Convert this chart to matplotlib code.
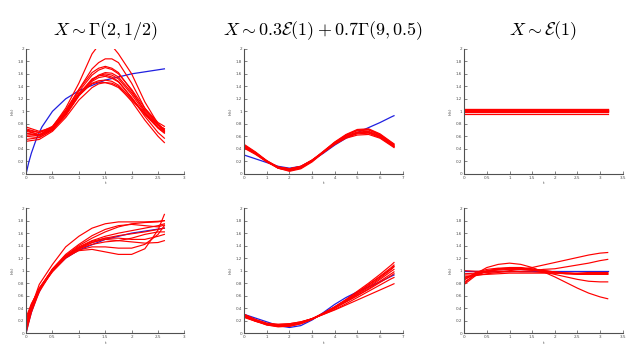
import matplotlib
matplotlib.use('Agg')
import matplotlib.pyplot as plt
import numpy as np

plt.rcParams['mathtext.fontset'] = 'cm'

# --- column 1 : X ~ Gamma(2, 1/2) ---
t_true_g = [0, 0.05, 0.1, 0.2, 0.3, 0.5, 0.75, 1.0, 1.5, 2.0, 2.62]
h_true_g = [0, 0.18, 0.33, 0.57, 0.75, 1.0, 1.2, 1.33, 1.5, 1.6, 1.68]

t_g_top = [0, 0.25, 0.5, 0.75, 1.0, 1.25, 1.375, 1.5, 1.625, 1.75, 2.0, 2.25, 2.5, 2.62]
h_g_top = [
    [0.70, 0.62, 0.75, 1.05, 1.45, 1.92, 2.06, 2.12, 2.05, 1.92, 1.60, 1.15, 0.80, 0.70],
    [0.65, 0.60, 0.72, 1.00, 1.35, 1.68, 1.78, 1.84, 1.84, 1.78, 1.45, 1.05, 0.78, 0.68],
    [0.72, 0.66, 0.76, 1.02, 1.35, 1.62, 1.69, 1.72, 1.69, 1.62, 1.33, 1.00, 0.78, 0.72],
    [0.60, 0.58, 0.70, 0.98, 1.32, 1.58, 1.66, 1.70, 1.67, 1.60, 1.35, 1.05, 0.82, 0.76],
    [0.75, 0.68, 0.74, 0.95, 1.25, 1.50, 1.58, 1.62, 1.61, 1.55, 1.30, 1.02, 0.80, 0.70],
    [0.68, 0.63, 0.72, 0.96, 1.28, 1.50, 1.57, 1.60, 1.58, 1.52, 1.27, 0.98, 0.74, 0.66],
    [0.65, 0.62, 0.70, 0.93, 1.25, 1.48, 1.54, 1.56, 1.53, 1.47, 1.22, 0.95, 0.73, 0.65],
    [0.70, 0.66, 0.73, 0.95, 1.25, 1.45, 1.49, 1.50, 1.48, 1.42, 1.20, 0.96, 0.75, 0.68],
    [0.62, 0.62, 0.75, 1.00, 1.28, 1.44, 1.47, 1.46, 1.43, 1.38, 1.18, 0.96, 0.78, 0.72],
    [0.52, 0.55, 0.68, 0.90, 1.18, 1.38, 1.44, 1.46, 1.45, 1.40, 1.16, 0.86, 0.60, 0.50],
    [0.55, 0.58, 0.70, 0.95, 1.28, 1.52, 1.57, 1.58, 1.55, 1.48, 1.22, 0.92, 0.66, 0.57],
]

t_g_bot = [0, 0.1, 0.25, 0.5, 0.75, 1.0, 1.25, 1.5, 1.75, 2.0, 2.25, 2.5, 2.62]
h_g_bot = [
    [0.10, 0.42, 0.78, 1.10, 1.38, 1.55, 1.68, 1.75, 1.78, 1.78, 1.78, 1.79, 1.80],
    [0.05, 0.38, 0.70, 1.02, 1.24, 1.40, 1.52, 1.62, 1.70, 1.75, 1.77, 1.78, 1.80],
    [0.20, 0.45, 0.72, 1.02, 1.22, 1.32, 1.34, 1.30, 1.26, 1.26, 1.35, 1.65, 1.90],
    [0.25, 0.47, 0.70, 0.98, 1.20, 1.33, 1.38, 1.38, 1.36, 1.36, 1.42, 1.58, 1.72],
    [0.15, 0.42, 0.70, 1.00, 1.22, 1.36, 1.45, 1.50, 1.48, 1.46, 1.44, 1.45, 1.48],
    [0.00, 0.33, 0.66, 1.00, 1.22, 1.35, 1.45, 1.52, 1.56, 1.59, 1.62, 1.66, 1.68],
    [0.05, 0.36, 0.68, 1.02, 1.24, 1.38, 1.48, 1.55, 1.60, 1.64, 1.68, 1.72, 1.75],
    [0.20, 0.45, 0.72, 1.01, 1.22, 1.35, 1.42, 1.46, 1.48, 1.52, 1.58, 1.62, 1.62],
    [0.12, 0.40, 0.69, 1.00, 1.23, 1.37, 1.47, 1.52, 1.52, 1.50, 1.50, 1.55, 1.58],
    [0.08, 0.38, 0.70, 1.03, 1.26, 1.42, 1.56, 1.66, 1.72, 1.74, 1.72, 1.70, 1.73],
]

# --- column 2 : X ~ 0.3 E(1) + 0.7 Gamma(9, 0.5) ---
t_m = [0, 0.5, 1, 1.5, 2, 2.5, 3, 3.5, 4, 4.5, 5, 5.5, 6, 6.5, 6.62]
h_true_m = [0.30, 0.24, 0.18, 0.12, 0.09, 0.12, 0.21, 0.33, 0.46, 0.57, 0.66, 0.74, 0.82, 0.91, 0.93]

h_m_top = [
    [0.47, 0.35, 0.21, 0.10, 0.06, 0.10, 0.21, 0.36, 0.51, 0.63, 0.71, 0.72, 0.64, 0.51, 0.48],
    [0.45, 0.34, 0.20, 0.09, 0.05, 0.09, 0.20, 0.35, 0.50, 0.62, 0.69, 0.70, 0.62, 0.49, 0.46],
    [0.44, 0.33, 0.20, 0.10, 0.07, 0.11, 0.22, 0.36, 0.50, 0.61, 0.67, 0.68, 0.61, 0.48, 0.45],
    [0.43, 0.32, 0.19, 0.09, 0.06, 0.10, 0.21, 0.35, 0.49, 0.60, 0.66, 0.66, 0.59, 0.47, 0.44],
    [0.42, 0.32, 0.20, 0.11, 0.08, 0.12, 0.22, 0.35, 0.48, 0.58, 0.64, 0.65, 0.58, 0.46, 0.43],
    [0.41, 0.31, 0.19, 0.10, 0.08, 0.12, 0.22, 0.34, 0.47, 0.57, 0.62, 0.63, 0.57, 0.45, 0.42],
    [0.46, 0.34, 0.20, 0.09, 0.04, 0.08, 0.19, 0.34, 0.49, 0.62, 0.70, 0.71, 0.63, 0.50, 0.47],
    [0.43, 0.33, 0.21, 0.11, 0.08, 0.11, 0.21, 0.34, 0.48, 0.59, 0.65, 0.67, 0.60, 0.47, 0.44],
]

h_m_bot = [
    [0.30, 0.21, 0.14, 0.11, 0.11, 0.15, 0.22, 0.31, 0.42, 0.54, 0.67, 0.80, 0.94, 1.09, 1.13],
    [0.28, 0.20, 0.14, 0.11, 0.12, 0.16, 0.23, 0.32, 0.42, 0.53, 0.65, 0.78, 0.91, 1.05, 1.09],
    [0.27, 0.20, 0.14, 0.12, 0.13, 0.17, 0.23, 0.31, 0.41, 0.52, 0.63, 0.75, 0.88, 1.02, 1.06],
    [0.29, 0.21, 0.15, 0.12, 0.13, 0.17, 0.23, 0.31, 0.40, 0.51, 0.62, 0.73, 0.86, 0.99, 1.02],
    [0.26, 0.19, 0.14, 0.13, 0.14, 0.17, 0.23, 0.31, 0.40, 0.50, 0.60, 0.71, 0.83, 0.95, 0.98],
    [0.28, 0.20, 0.13, 0.10, 0.11, 0.15, 0.22, 0.31, 0.41, 0.50, 0.60, 0.70, 0.81, 0.92, 0.95],
    [0.25, 0.19, 0.15, 0.14, 0.15, 0.18, 0.23, 0.30, 0.38, 0.47, 0.57, 0.67, 0.77, 0.87, 0.89],
    [0.30, 0.22, 0.16, 0.14, 0.15, 0.18, 0.23, 0.30, 0.37, 0.45, 0.53, 0.61, 0.69, 0.77, 0.79],
    [0.27, 0.19, 0.13, 0.11, 0.12, 0.16, 0.23, 0.32, 0.42, 0.53, 0.65, 0.77, 0.90, 1.03, 1.07],
]

# --- column 3 : X ~ E(1) ---
t_e_top = [0, 3.17]
h_true_e_top = [1.0, 1.0]
h_e_top = [1.035, 1.03, 1.025, 1.02, 1.015, 1.01, 1.005, 0.995, 0.99, 0.965]

t_e = [0, 0.25, 0.5, 0.75, 1, 1.25, 1.5, 1.75, 2, 2.25, 2.5, 2.75, 3, 3.17]
h_true_e = [1.0] * len(t_e)
h_e_bot = [
    [0.80, 0.95, 1.05, 1.10, 1.12, 1.10, 1.05, 0.98, 0.90, 0.81, 0.72, 0.64, 0.58, 0.55],
    [0.90, 0.92, 0.95, 0.97, 1.00, 1.02, 1.05, 1.09, 1.13, 1.17, 1.21, 1.25, 1.28, 1.29],
    [0.95, 0.96, 0.97, 0.98, 0.98, 0.99, 1.00, 1.02, 1.03, 1.06, 1.09, 1.12, 1.16, 1.18],
    [0.85, 0.97, 1.02, 1.04, 1.04, 1.03, 1.01, 0.98, 0.94, 0.90, 0.86, 0.83, 0.82, 0.82],
    [0.78, 0.92, 0.99, 1.03, 1.05, 1.05, 1.03, 1.00, 0.97, 0.95, 0.94, 0.94, 0.95, 0.95],
    [0.88, 0.95, 1.00, 1.03, 1.04, 1.04, 1.02, 1.00, 0.98, 0.96, 0.95, 0.95, 0.96, 0.96],
    [0.93, 0.93, 0.94, 0.95, 0.96, 0.96, 0.96, 0.96, 0.96, 0.96, 0.96, 0.97, 0.97, 0.97],
    [0.82, 0.93, 0.99, 1.02, 1.03, 1.03, 1.02, 1.00, 0.98, 0.96, 0.95, 0.94, 0.94, 0.94],
    [1.00, 0.99, 0.99, 0.99, 0.99, 0.98, 0.98, 0.97, 0.96, 0.95, 0.95, 0.94, 0.94, 0.94],
    [0.86, 0.94, 0.99, 1.01, 1.02, 1.02, 1.01, 0.99, 0.97, 0.96, 0.95, 0.95, 0.95, 0.96],
]

titles = [r'$X \sim \Gamma(2,1/2)$',
          r'$X \sim 0.3\mathcal{E}(1) + 0.7\Gamma(9,0.5)$',
          r'$X \sim \mathcal{E}(1)$']
xmax = [3, 7, 3.5]
xstep = [0.5, 1, 0.5]

RED = '#ff0000'
BLUE = '#2020e0'

fig = plt.figure(figsize=(6.36, 3.54), dpi=100)
lefts = [0.041, 0.384, 0.730]
bottoms = [0.509, 0.059]
w, h = 0.249, 0.353

panels = [
    [(t_true_g, h_true_g, t_g_top, h_g_top),
     (t_m, h_true_m, t_m, h_m_top),
     (t_e_top, h_true_e_top, t_e_top, [[v, v] for v in h_e_top])],
    [(t_true_g, h_true_g, t_g_bot, h_g_bot),
     (t_m, h_true_m, t_m, h_m_bot),
     (t_e, h_true_e, t_e, h_e_bot)],
]

for r in range(2):
    for c in range(3):
        ax = fig.add_axes([lefts[c], bottoms[r], w, h])
        tb, hb, tr, hr = panels[r][c]
        ax.plot(tb, hb, color=BLUE, lw=0.9)
        for curve in hr:
            ax.plot(tr, curve, color=RED, lw=0.85)
        ax.set_xlim(0, xmax[c])
        ax.set_ylim(0, 2)
        ax.set_xticks(np.arange(0, xmax[c] + 1e-9, xstep[c]))
        ax.set_yticks(np.arange(0, 2.01, 0.2))
        ax.set_yticklabels(['0', '0.2', '0.4', '0.6', '0.8', '1',
                            '1.2', '1.4', '1.6', '1.8', '2'])
        ax.xaxis.set_major_formatter(matplotlib.ticker.FormatStrFormatter('%g'))
        for s in ['top', 'right']:
            ax.spines[s].set_visible(False)
        for s in ['left', 'bottom']:
            ax.spines[s].set_color('#505050')
            ax.spines[s].set_linewidth(0.8)
        ax.tick_params(direction='in', length=2, width=0.5, labelsize=3,
                       colors='#505050', pad=1.5)
        ax.set_xlabel('t', fontsize=3, color='#505050', labelpad=1)
        ax.set_ylabel('h(t)', fontsize=3, color='#505050', labelpad=2)
        if r == 0:
            ax.set_title(titles[c], fontsize=13, pad=10)

plt.savefig('out.png', dpi=100)
